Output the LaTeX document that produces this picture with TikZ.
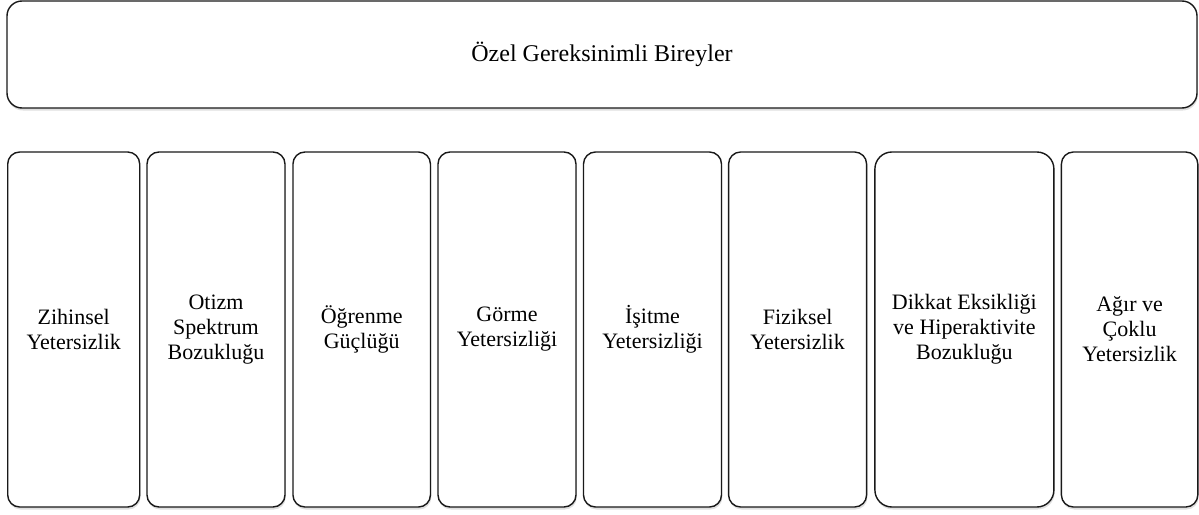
\documentclass[tikz,border=0pt]{standalone}
\usepackage{fontspec}
\setmainfont{Liberation Serif}
\usetikzlibrary{shadows}
\begin{document}
\begin{tikzpicture}[x=1pt,y=1pt,
  base/.style={draw=black!90, line width=1.4pt, fill=white, align=center, inner sep=2pt,
    drop shadow={opacity=0.25, shadow xshift=0.8pt, shadow yshift=-2.5pt}},
  titlebox/.style={base, rounded corners=15pt, font=\fontsize{24}{28}\selectfont},
  catbox/.style={base, rounded corners=12pt, minimum height=355pt, font=\fontsize{22}{25}\selectfont}
]
\useasboundingbox (0,0) rectangle (1199,-514);
\node[titlebox, minimum width=1190pt, minimum height=107pt] (top) at (602,-54.5) {Özel Gereksinimli Bireyler};
\node[catbox, minimum width=132pt] (b1) at (73.7,-329.5) {Zihinsel\\Yetersizlik};
\node[catbox, minimum width=138pt] (b2) at (216,-329.5) {Otizm\\Spektrum\\Bozukluğu};
\node[catbox, minimum width=137.5pt] (b3) at (361.7,-329.5) {Öğrenme\\Güçlüğü};
\node[catbox, minimum width=138pt] (b4) at (507,-329.5) {Görme\\Yetersizliği};
\node[catbox, minimum width=138pt] (b5) at (652.5,-329.5) {İşitme\\Yetersizliği};
\node[catbox, minimum width=138pt] (b6) at (797.6,-329.5) {Fiziksel\\Yetersizlik};
\node[catbox, rounded corners=17pt, minimum width=179pt] (b7) at (964.4,-329.5) {Dikkat Eksikliği\\ve Hiperaktivite\\Bozukluğu};
\node[catbox, minimum width=136.4pt] (b8) at (1129.6,-329.5) {Ağır ve\\Çoklu\\Yetersizlik};
\end{tikzpicture}
\end{document}
